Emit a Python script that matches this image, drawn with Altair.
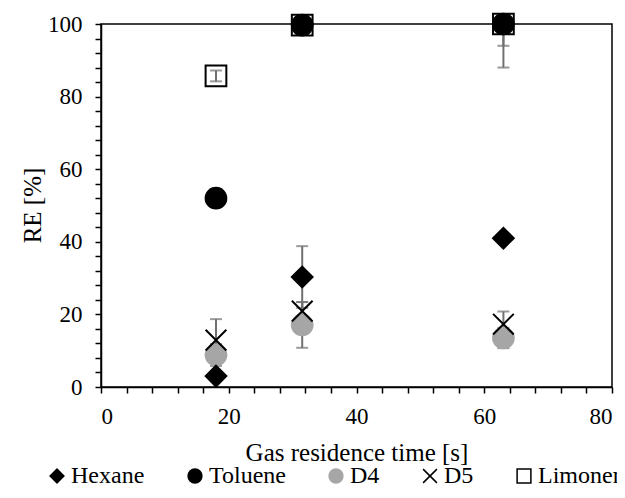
import altair as alt
import pandas as pd

series = ["Hexane", "Toluene", "D4", "D5", "Limonene"]
times = [18, 31.5, 63]
hexane = [3.0, 30.3, 41.0]
hexane_err = [0.0, 8.5, 0.0]
toluene = [52.0, 99.7, 100.0]
toluene_err = [0.0, 0.0, 6.0]
d4 = [8.8, 17.1, 13.5]
d4_err = [3.0, 6.3, 2.8]
d5 = [12.9, 20.9, 17.3]
d5_err = [5.8, 2.5, 3.5]
limonene = [85.7, 99.7, 100.0]
limonene_err = [1.5, 0.0, 12.0]

# drawing order: Limonene behind, D5 on top
draw_order = [("Limonene", limonene, limonene_err), ("D4", d4, d4_err),
              ("Hexane", hexane, hexane_err), ("Toluene", toluene, toluene_err),
              ("D5", d5, d5_err)]
rows = []
for name, vals, errs in draw_order:
    for t, v, e in zip(times, vals, errs):
        rows.append({"series": name, "time": t, "value": v,
                     "lo": v - e, "hi": v + e, "err": e})
df = pd.DataFrame(rows)
df_err = df[df["err"] > 0]

FONT = "Liberation Serif"
XPATH = "M-1,-1L1,1M1,-1L-1,1"

x_scale = alt.Scale(domain=[0, 80], nice=False)
y_scale = alt.Scale(domain=[0, 100], nice=False)

x_axis = alt.Axis(values=list(range(0, 81, 4)),
                  labelExpr="datum.value % 20 === 0 ? datum.label : ''",
                  labelOverlap=False, tickSize=6,
                  title="Gas residence time [s]", labelPadding=12, titlePadding=12)
y_axis = alt.Axis(values=list(range(0, 101, 4)),
                  labelExpr="datum.value % 20 === 0 ? datum.label : ''",
                  labelOverlap=False, tickSize=6,
                  title="RE [%]", labelPadding=13,
                  titleX=-69, titleY=181, titleAngle=-90,
                  titleAlign="center", titleBaseline="middle")

X = alt.X("time:Q", scale=x_scale, axis=x_axis)

rules = alt.Chart(df_err).mark_rule(color="#707070", strokeWidth=2, clip=True).encode(
    x=X,
    y=alt.Y("lo:Q", scale=y_scale, axis=y_axis),
    y2="hi:Q",
)
caps_lo = alt.Chart(df_err).mark_tick(color="#707070", orient="horizontal", size=12,
                                       thickness=2, clip=True).encode(
    x=X,
    y=alt.Y("lo:Q", scale=y_scale, axis=y_axis),
)
caps_hi = alt.Chart(df_err).mark_tick(color="#707070", orient="horizontal", size=12,
                                       thickness=2, clip=True).encode(
    x=X,
    y=alt.Y("hi:Q", scale=y_scale, axis=y_axis),
)

points = alt.Chart(df).mark_point(filled=True, strokeWidth=2, size=430, opacity=1).encode(
    x=X,
    y=alt.Y("value:Q", scale=y_scale, axis=y_axis),
    shape=alt.Shape("series:N", scale=alt.Scale(domain=series,
                    range=["diamond", "circle", "circle", XPATH, "square"]), title=None),
    fill=alt.Fill("series:N", scale=alt.Scale(domain=series,
                  range=["black", "black", "#a6a6a6", "transparent", "transparent"]), title=None),
    stroke=alt.Stroke("series:N", scale=alt.Scale(domain=series,
                      range=["black", "black", "#a6a6a6", "black", "black"]), title=None),
)

chart = alt.layer(rules, caps_lo, caps_hi, points).properties(
    width=511, height=363,
    autosize=alt.AutoSizeParams(type="none"),
    padding={"left": 93, "top": 16, "right": 5, "bottom": 103},
).configure(
    font=FONT,
    style={"guide-label": {"font": FONT}, "guide-title": {"font": FONT}},
).configure_view(
    stroke="black", strokeWidth=1.5
).configure_axis(
    grid=False, domainColor="black", domainWidth=1.5, tickColor="black", tickWidth=1.5,
    labelFont=FONT, labelFontSize=23, labelColor="black",
    titleFont=FONT, titleFontSize=25, titleColor="black", titleFontWeight="normal",
).configure_legend(
    orient="none", legendX=-56, legendY=440,
    direction="horizontal", columnPadding=38, labelOffset=2,
    symbolSize=190, symbolStrokeWidth=1.5, symbolOpacity=1,
    labelFont=FONT, labelFontSize=24, labelColor="black",
)

chart.save("out.html", embed_options={"renderer": "svg", "actions": False})
